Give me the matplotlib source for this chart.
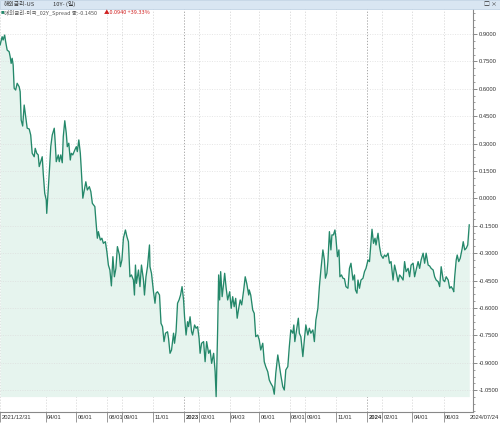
import matplotlib
matplotlib.use("Agg")
import matplotlib.pyplot as plt
import matplotlib.dates as mdates
from matplotlib.ticker import MultipleLocator, AutoMinorLocator, FixedLocator
from matplotlib.transforms import ScaledTranslation
from matplotlib.patches import Rectangle
import pandas as pd

# 해외금리 - 미국 02Y Spread (일)
dates = [
    '2021-12-31', '2022-01-04', '2022-01-06', '2022-01-09', '2022-01-11', '2022-01-14', '2022-01-18', '2022-01-20', '2022-01-22', '2022-01-24',
    '2022-01-26', '2022-01-28', '2022-01-31', '2022-02-03', '2022-02-07', '2022-02-09', '2022-02-11', '2022-02-14', '2022-02-17', '2022-02-20',
    '2022-02-23', '2022-02-27', '2022-03-02', '2022-03-05', '2022-03-09', '2022-03-11', '2022-03-14', '2022-03-17', '2022-03-19', '2022-03-22',
    '2022-03-25', '2022-03-27', '2022-03-30', '2022-04-02', '2022-04-03', '2022-04-06', '2022-04-09', '2022-04-11', '2022-04-14', '2022-04-18',
    '2022-04-20', '2022-04-22', '2022-04-26', '2022-04-28', '2022-05-01', '2022-05-04', '2022-05-06', '2022-05-09', '2022-05-12', '2022-05-14',
    '2022-05-17', '2022-05-20', '2022-05-22', '2022-05-25', '2022-05-29', '2022-06-01', '2022-06-03', '2022-06-06', '2022-06-09', '2022-06-11',
    '2022-06-14', '2022-06-17', '2022-06-20', '2022-06-23', '2022-06-27', '2022-06-30', '2022-07-03', '2022-07-08', '2022-07-10', '2022-07-13',
    '2022-07-15', '2022-07-19', '2022-07-22', '2022-07-25', '2022-07-29', '2022-08-01', '2022-08-04', '2022-08-07', '2022-08-10', '2022-08-13',
    '2022-08-16', '2022-08-19', '2022-08-22', '2022-08-26', '2022-08-28', '2022-08-31', '2022-09-03', '2022-09-07', '2022-09-10', '2022-09-13',
    '2022-09-16', '2022-09-19', '2022-09-23', '2022-09-25', '2022-09-27', '2022-09-29', '2022-10-03', '2022-10-06', '2022-10-09', '2022-10-13',
    '2022-10-15', '2022-10-18', '2022-10-21', '2022-10-25', '2022-10-26', '2022-10-29', '2022-11-02', '2022-11-05', '2022-11-07', '2022-11-10',
    '2022-11-14', '2022-11-17', '2022-11-20', '2022-11-23', '2022-11-26', '2022-11-30', '2022-12-02', '2022-12-05', '2022-12-08', '2022-12-12',
    '2022-12-14', '2022-12-17', '2022-12-20', '2022-12-23', '2022-12-26', '2022-12-29', '2023-01-01', '2023-01-03', '2023-01-06', '2023-01-09',
    '2023-01-11', '2023-01-14', '2023-01-17', '2023-01-19', '2023-01-23', '2023-01-26', '2023-01-29', '2023-02-01', '2023-02-03', '2023-02-06',
    '2023-02-10', '2023-02-13', '2023-02-16', '2023-02-20', '2023-02-23', '2023-02-26', '2023-03-02', '2023-03-05', '2023-03-07', '2023-03-10',
    '2023-03-12', '2023-03-14', '2023-03-16', '2023-03-19', '2023-03-22', '2023-03-24', '2023-03-27', '2023-03-30', '2023-04-03', '2023-04-06',
    '2023-04-09', '2023-04-12', '2023-04-15', '2023-04-18', '2023-04-21', '2023-04-24', '2023-04-27', '2023-05-01', '2023-05-04', '2023-05-07',
    '2023-05-11', '2023-05-12', '2023-05-15', '2023-05-19', '2023-05-22', '2023-05-25', '2023-05-29', '2023-06-01', '2023-06-04', '2023-06-08',
    '2023-06-11', '2023-06-14', '2023-06-18', '2023-06-21', '2023-06-24', '2023-06-28', '2023-07-01', '2023-07-04', '2023-07-08', '2023-07-11',
    '2023-07-14', '2023-07-18', '2023-07-21', '2023-07-24', '2023-07-28', '2023-07-31', '2023-08-03', '2023-08-07', '2023-08-09', '2023-08-11',
    '2023-08-15', '2023-08-18', '2023-08-20', '2023-08-23', '2023-08-27', '2023-08-30', '2023-09-02', '2023-09-06', '2023-09-09', '2023-09-12',
    '2023-09-16', '2023-09-19', '2023-09-22', '2023-09-26', '2023-09-29', '2023-10-02', '2023-10-06', '2023-10-09', '2023-10-11', '2023-10-14',
    '2023-10-16', '2023-10-19', '2023-10-22', '2023-10-24', '2023-10-27', '2023-10-30', '2023-11-01', '2023-11-04', '2023-11-07', '2023-11-09',
    '2023-11-12', '2023-11-15', '2023-11-18', '2023-11-21', '2023-11-25', '2023-11-28', '2023-12-01', '2023-12-05', '2023-12-08', '2023-12-10',
    '2023-12-13', '2023-12-15', '2023-12-18', '2023-12-21', '2023-12-25', '2023-12-28', '2023-12-31', '2024-01-04', '2024-01-07', '2024-01-10',
    '2024-01-12', '2024-01-15', '2024-01-18', '2024-01-20', '2024-01-24', '2024-01-27', '2024-01-30', '2024-02-03', '2024-02-06', '2024-02-09',
    '2024-02-13', '2024-02-16', '2024-02-19', '2024-02-23', '2024-02-26', '2024-02-29', '2024-03-04', '2024-03-07', '2024-03-10', '2024-03-14',
    '2024-03-17', '2024-03-20', '2024-03-24', '2024-03-27', '2024-03-30', '2024-04-03', '2024-04-06', '2024-04-09', '2024-04-13', '2024-04-16',
    '2024-04-19', '2024-04-23', '2024-04-26', '2024-04-29', '2024-05-03', '2024-05-06', '2024-05-09', '2024-05-13', '2024-05-16', '2024-05-19',
    '2024-05-23', '2024-05-26', '2024-05-29', '2024-06-02', '2024-06-05', '2024-06-08', '2024-06-12', '2024-06-15', '2024-06-18', '2024-06-22',
    '2024-06-23', '2024-06-25', '2024-06-28', '2024-06-30', '2024-07-03', '2024-07-06', '2024-07-10', '2024-07-12', '2024-07-15', '2024-07-18',
    '2024-07-21', '2024-07-24',
]

spread = [
    0.840, 0.885, 0.867, 0.894, 0.858, 0.812, 0.803, 0.776, 0.739, 0.767,
    0.730, 0.603, 0.593, 0.630, 0.611, 0.584, 0.429, 0.396, 0.511, 0.447,
    0.384, 0.380, 0.347, 0.247, 0.228, 0.274, 0.247, 0.238, 0.174, 0.201,
    0.228, 0.137, 0.028, -0.009, -0.082, 0.046, 0.183, 0.283, 0.347, 0.384,
    0.302, 0.201, 0.238, 0.201, 0.238, 0.195, 0.338, 0.425, 0.356, 0.283,
    0.302, 0.210, 0.247, 0.238, 0.265, 0.283, 0.256, 0.320, 0.247, 0.155,
    0.001, 0.046, 0.091, 0.046, 0.064, 0.037, -0.027, -0.045, -0.118, -0.218,
    -0.182, -0.228, -0.218, -0.246, -0.237, -0.292, -0.365, -0.392, -0.479, -0.319,
    -0.429, -0.383, -0.264, -0.310, -0.374, -0.337, -0.218, -0.173, -0.210, -0.237,
    -0.429, -0.419, -0.447, -0.529, -0.365, -0.465, -0.392, -0.483, -0.365, -0.447,
    -0.529, -0.429, -0.374, -0.255, -0.374, -0.410, -0.511, -0.574, -0.519, -0.511,
    -0.529, -0.684, -0.702, -0.784, -0.738, -0.730, -0.766, -0.848, -0.830, -0.738,
    -0.793, -0.730, -0.574, -0.556, -0.529, -0.483, -0.556, -0.648, -0.748, -0.675,
    -0.702, -0.648, -0.730, -0.748, -0.693, -0.711, -0.702, -0.766, -0.848, -0.793,
    -0.784, -0.894, -0.784, -0.848, -0.830, -0.903, -0.848, -0.949, -1.085, -0.720,
    -0.419, -0.556, -0.401, -0.538, -0.465, -0.410, -0.492, -0.556, -0.511, -0.602,
    -0.538, -0.593, -0.547, -0.656, -0.602, -0.556, -0.583, -0.501, -0.429, -0.465,
    -0.529, -0.501, -0.529, -0.611, -0.629, -0.757, -0.748, -0.775, -0.830, -0.793,
    -0.894, -0.921, -0.949, -0.994, -1.012, -1.031, -1.072, -0.957, -0.857, -0.912,
    -0.967, -1.031, -1.049, -0.939, -0.921, -0.812, -0.720, -0.738, -0.693, -0.784,
    -0.711, -0.656, -0.738, -0.757, -0.866, -0.775, -0.693, -0.748, -0.711, -0.738,
    -0.720, -0.784, -0.666, -0.602, -0.483, -0.392, -0.282, -0.337, -0.437, -0.410,
    -0.346, -0.182, -0.282, -0.200, -0.200, -0.173, -0.218, -0.319, -0.282, -0.429,
    -0.419, -0.437, -0.440, -0.483, -0.492, -0.383, -0.355, -0.447, -0.419, -0.501,
    -0.519, -0.447, -0.492, -0.447, -0.437, -0.401, -0.383, -0.337, -0.346, -0.237,
    -0.169, -0.246, -0.218, -0.255, -0.191, -0.264, -0.310, -0.328, -0.310, -0.319,
    -0.300, -0.355, -0.346, -0.447, -0.365, -0.401, -0.456, -0.419, -0.429, -0.447,
    -0.346, -0.401, -0.383, -0.429, -0.365, -0.355, -0.429, -0.392, -0.346, -0.383,
    -0.337, -0.300, -0.355, -0.300, -0.365, -0.370, -0.383, -0.392, -0.429, -0.447,
    -0.456, -0.483, -0.374, -0.447, -0.456, -0.429, -0.447, -0.492, -0.483, -0.501,
    -0.511, -0.429, -0.337, -0.310, -0.346, -0.328, -0.273, -0.237, -0.282, -0.273,
    -0.255, -0.145,
]

tick_dates = ['2021-12-31', '2022-04-01', '2022-06-01', '2022-08-01', '2022-09-01', '2022-11-01',
              '2023-01-02', '2023-02-01', '2023-04-03', '2023-06-01', '2023-08-01', '2023-09-01',
              '2023-11-01', '2024-01-02', '2024-02-01', '2024-04-01', '2024-06-03']
tick_labels = ['2021/12/31', '04/01', '06/01', '08/01', '09/01', '11/01',
               '2023', '02/01', '04/03', '06/01', '08/01', '09/01',
               '11/01', '2024', '02/01', '04/01', '06/03']
year_labels = ['2023', '2024']
last_label = '2024/07/24'

title_1 = '해외금리-US'
title_1b = '10Y- (일)'
title_2 = '해외금리-미국_02Y_Spread 종:-0.1450'
title_2b = '▲0.0940 +39.33%'

x = pd.to_datetime(dates)
xt = pd.to_datetime(tick_dates)

small_font = ['Liberation Sans', 'DejaVu Sans']
kr_font = ['Noto Sans CJK KR', 'DejaVu Sans']
fs = 4.2

fig = plt.figure(figsize=(5.0, 4.26), dpi=100)
ax = fig.add_axes([0.0, 0.033, 0.946, 0.946])

line_c = '#24886a'
ax.fill_between(x, spread, min(spread), color='#e6f4ee', lw=0)
ax.plot(x, spread, color=line_c, lw=0.95)

ax.set_xlim(pd.Timestamp('2021-12-30 18:00'), pd.Timestamp('2024-07-31 12:00'))
ax.set_ylim(-1.169, 1.037)

# 오른쪽 축
ax.yaxis.tick_right()
ax.yaxis.set_major_locator(MultipleLocator(0.15))
ax.yaxis.set_minor_locator(AutoMinorLocator(4))
ax.yaxis.set_major_formatter(matplotlib.ticker.FormatStrFormatter('%.4f'))
ax.tick_params(axis='y', which='major', length=3, width=0.6, color='#777777',
               pad=0.8, labelsize=fs, labelcolor='#333333')
ax.tick_params(axis='y', which='minor', length=1.5, width=0.5, color='#777777')
for lab in ax.get_yticklabels():
    lab.set_family(small_font)

# 아래 날짜축
ax.xaxis.set_major_locator(FixedLocator(mdates.date2num(xt)))
ax.set_xticklabels(tick_labels)
ax.tick_params(axis='x', which='major', length=7, width=0.6, color='#888888',
               pad=-5.0, labelsize=fs, labelcolor='#333333')
shift = ScaledTranslation(1.0 / 72, 0, fig.dpi_scale_trans)
for lab in ax.get_xticklabels():
    lab.set_ha('left')
    lab.set_family(small_font)
    lab.set_transform(lab.get_transform() + shift)
    if lab.get_text() in year_labels:
        lab.set_fontweight('bold')

fig.text(498.5 / 500, 1 - 417.5 / 426, last_label, ha='right', va='center',
         fontsize=fs, color='#333333', family=small_font)

# 격자
ax.grid(True, which='major', axis='y', ls=(0, (1.5, 2)), lw=0.5, color='#dddddd')
for d, lbl in zip(xt, tick_labels):
    c = '#9a9a9a' if lbl in year_labels else '#d6d6d6'
    ax.axvline(d, ls=(0, (1.5, 2)), lw=0.6, color=c, zorder=0.5)

for s in ['left', 'top']:
    ax.spines[s].set_visible(False)
ax.spines['right'].set_color('#888888')
ax.spines['bottom'].set_color('#888888')
ax.spines['right'].set_linewidth(0.8)
ax.spines['bottom'].set_linewidth(0.8)

# 상단 제목줄
fig.patches.append(Rectangle((0, 1 - 8.5 / 426), 1, 8.5 / 426, transform=fig.transFigure,
                             facecolor='#d9e6f2', edgecolor='#b9cde0', lw=0.5))
fig.text(4 / 500, 1 - 4.3 / 426, title_1, fontsize=4.2, color='#333333', va='center', family=kr_font)
fig.text(53 / 500, 1 - 4.3 / 426, title_1b, fontsize=4.2, color='#333333', va='center', family=kr_font)
fig.text(484 / 500, 1 - 4.3 / 426, '□ ×', fontsize=4.2, color='#333333', va='center', family=kr_font)
fig.text(1 / 500, 1 - 12.5 / 426, '■', fontsize=2.6, color=line_c, va='center', family=kr_font)
fig.text(4 / 500, 1 - 12.5 / 426, title_2, fontsize=4.0, color='#555555', va='center', family=kr_font)
fig.text(104 / 500, 1 - 12.5 / 426, title_2b, fontsize=4.0, color='#d02020', va='center', family=kr_font)

fig.savefig('out.png', dpi=100)
